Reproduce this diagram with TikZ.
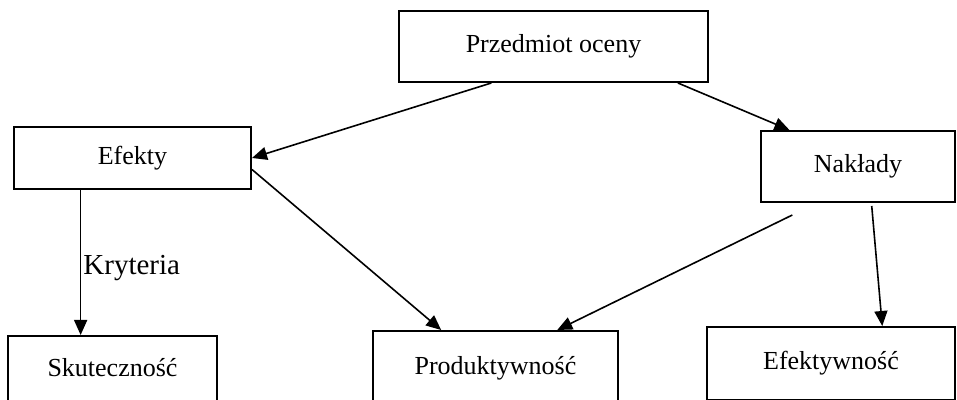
\documentclass[tikz,border=0pt]{standalone}
\usepackage{fontspec}
\setmainfont{Liberation Serif}
\usetikzlibrary{positioning,calc,arrows.meta}

\tikzset{
  box/.style={draw, line width=1pt, align=center, inner sep=2pt,
    font=\fontsize{13}{15}\selectfont},
  arr/.style={line width=0.8pt, -{Triangle[length=7.5pt,width=6.5pt]}},
}

\begin{document}
\begin{tikzpicture}[x=0.5pt,y=-0.5pt]
            \useasboundingbox (0,0) rectangle (957,400);

            % Define nodes
            \node[box, minimum width=154.5pt, minimum height=35.5pt] (P) at (553.5,46.5) {Przedmiot oceny};
            \node[box, minimum width=118.5pt, minimum height=31pt, below=21.5pt of P, xshift=-210.5pt] (E) {Efekty};
            \node[box, minimum width=97pt, minimum height=35.5pt, below=23.5pt of P, xshift=152.25pt] (N) {Nakłady};
            \node[box, minimum width=104.5pt, minimum height=37pt, text depth=6pt, below=72.5pt of E, xshift=-10pt] (S) {Skuteczność};
            \node[box, minimum width=122.5pt, minimum height=37pt, text depth=3pt, below=123.5pt of P, xshift=-29pt] (R) {Produktywność};
            \node[box, minimum width=124pt, minimum height=36.5pt, below=61.5pt of N, xshift=-13.5pt] (F) {Efektywność};

            % Connect the nodes
            \draw[arr] ($(P.south west)!0.30!(P.south east)$) -- (E.east);
            \draw[arr] ($(P.south west)!0.90!(P.south east)$) -- ($(N.north west)!0.15!(N.north east)$);
            \draw[arr] ($(E.north east)!0.68!(E.south east)$) -- ($(R.north west)!0.28!(R.north east)$);
            \draw[arr] ($(N.south west)!0.165!(N.south east)+(0,12)$) -- ($(R.north west)!0.75!(R.north east)$);
            \draw[arr] ($(N.south west)!0.57!(N.south east)+(0,3)$) -- ($(F.north west)!0.705!(F.north east)$);
            \coordinate (k) at ($(E.south west)!0.283!(E.south east)$);
            \draw[arr] (k) -- node[pos=0.54, right, inner sep=1pt, font=\fontsize{14.5}{17}\selectfont] {Kryteria} (k |- S.north);
          \end{tikzpicture}
\end{document}
